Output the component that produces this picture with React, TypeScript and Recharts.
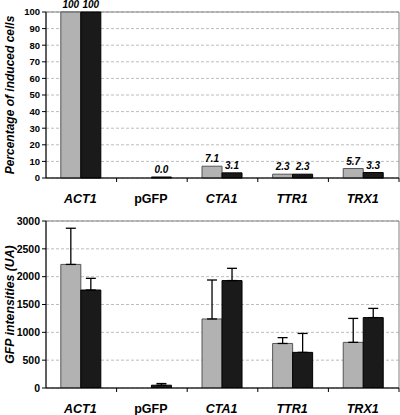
import { BarChart, Bar, XAxis, YAxis, CartesianGrid, LabelList, ErrorBar, ReferenceArea } from 'recharts';

const genes = ['ACT1', 'pGFP', 'CTA1', 'TTR1', 'TRX1'];

// percentage of induced cells
const inducedGrey = [100, null, 7.1, 2.3, 5.7];
const inducedBlack = [100, 0, 3.1, 2.3, 3.3];

// GFP intensities (UA), error bars only drawn upward
const gfpGrey = [2220, null, 1240, 800, 820];
const gfpGreyErr = [650, 0, 700, 105, 430];
const gfpBlack = [1760, 50, 1930, 640, 1265];
const gfpBlackErr = [210, 30, 220, 340, 165];

const pctTicks = [0, 10, 20, 30, 40, 50, 60, 70, 80, 90, 100];
const gfpTicks = [0, 500, 1000, 1500, 2000, 2500, 3000];

const inducedData = genes.map((g, i) => ({ gene: g, grey: inducedGrey[i], black: inducedBlack[i] }));
const gfpData = genes.map((g, i) => ({
  gene: g,
  grey: gfpGrey[i],
  black: gfpBlack[i],
  greyErr: [0, gfpGreyErr[i]],
  blackErr: [0, gfpBlackErr[i]],
}));

const FONT = '"Liberation Sans", Arial, sans-serif';
const W = 400;
const PLOT_LEFT = 46;
const PLOT_RIGHT = 1;
const BAND = (W - PLOT_LEFT - PLOT_RIGHT) / genes.length;
const GREY = '#b2b2b2';
const BLACK = '#1a1a1a';

function GeneTick({ x, y, payload }: { x?: number; y?: number; payload?: { value: string } }) {
  const name = payload?.value ?? '';
  return (
    <g>
      <line x1={x! + BAND / 2} x2={x! + BAND / 2} y1={y! - 8} y2={y! - 4} stroke="#000" />
      <text
        x={x! - 1}
        y={y! + 17}
        textAnchor="middle"
        fontFamily={FONT}
        fontSize={12.5}
        fontWeight="bold"
        fontStyle={name === 'pGFP' ? 'normal' : 'italic'}
        fill="#000"
      >
        {name}
      </text>
    </g>
  );
}

function PctLabel(props: any) {
  const { x, y, width, value } = props;
  if (value === null || value === undefined) return null;
  const n = Number(value);
  return (
    <text
      x={Number(x) + Number(width) / 2}
      y={Number(y) - 4}
      textAnchor="middle"
      fontFamily={FONT}
      fontSize={10}
      fontWeight="bold"
      fontStyle="italic"
      fill="#000"
    >
      {n === 100 ? '100' : n.toFixed(1)}
    </text>
  );
}

const titleStyle = { fontSize: 12.3, fontWeight: 'bold', fontStyle: 'italic', fontFamily: FONT, fill: '#000', textAnchor: 'middle' };

export default function App() {
  return (
    <div style={{ position: 'absolute', left: 0, top: 0, width: 400, height: 415, background: '#fff' }}>
      <BarChart
        width={W}
        height={210}
        data={inducedData}
        margin={{ top: 12, right: PLOT_RIGHT, left: 0, bottom: 0 }}
        barCategoryGap="21%"
        barGap={0}
      >
        <CartesianGrid vertical={false} stroke="#bdbdbd" strokeDasharray="3 2" />
        <ReferenceArea y1={0} y2={100} fill="none" stroke="#808080" strokeWidth={1} ifOverflow="visible" />
        <XAxis dataKey="gene" height={32} axisLine={{ stroke: '#000' }} tickLine={false} tick={<GeneTick />} interval={0} />
        <YAxis
          width={PLOT_LEFT}
          domain={[0, 100]}
          ticks={pctTicks}
          interval={0}
          tick={{ fontSize: 9.5, fontWeight: 'bold', fill: '#000', fontFamily: FONT }}
          tickSize={4}
          axisLine={{ stroke: '#000' }}
          tickLine={{ stroke: '#000' }}
          label={{ value: 'Percentage of induced cells', angle: -90, position: 'insideLeft', offset: 0, dx: 10, style: { ...titleStyle, fontSize: 12 } }}
        />
        <Bar dataKey="grey" fill={GREY} stroke="#555" strokeWidth={1} isAnimationActive={false}>
          <LabelList dataKey="grey" content={<PctLabel />} />
        </Bar>
        <Bar dataKey="black" fill={BLACK} stroke="#000" strokeWidth={1} minPointSize={1} isAnimationActive={false}>
          <LabelList dataKey="black" content={<PctLabel />} />
        </Bar>
      </BarChart>
      <BarChart
        width={W}
        height={205}
        data={gfpData}
        margin={{ top: 11, right: PLOT_RIGHT, left: 0, bottom: 0 }}
        barCategoryGap="21%"
        barGap={0}
      >
        <CartesianGrid vertical={false} stroke="#bdbdbd" strokeDasharray="3 2" />
        <ReferenceArea y1={0} y2={3000} fill="none" stroke="#808080" strokeWidth={1} ifOverflow="visible" />
        <XAxis dataKey="gene" height={27} axisLine={{ stroke: '#000' }} tickLine={false} tick={<GeneTick />} interval={0} />
        <YAxis
          width={PLOT_LEFT}
          domain={[0, 3000]}
          ticks={gfpTicks}
          interval={0}
          allowDataOverflow
          tick={{ fontSize: 10.5, fontWeight: 'bold', fill: '#000', fontFamily: FONT }}
          tickSize={4}
          axisLine={{ stroke: '#000' }}
          tickLine={{ stroke: '#000' }}
          label={{ value: 'GFP intensities (UA)', angle: -90, position: 'insideLeft', offset: 0, dx: 10, style: titleStyle }}
        />
        <Bar dataKey="grey" fill={GREY} stroke="#555" strokeWidth={1} isAnimationActive={false}>
          <ErrorBar dataKey="greyErr" width={5} stroke="#000" strokeWidth={1.3} direction="y" />
        </Bar>
        <Bar dataKey="black" fill={BLACK} stroke="#000" strokeWidth={1} isAnimationActive={false}>
          <ErrorBar dataKey="blackErr" width={5} stroke="#000" strokeWidth={1.3} direction="y" />
        </Bar>
      </BarChart>
    </div>
  );
}
